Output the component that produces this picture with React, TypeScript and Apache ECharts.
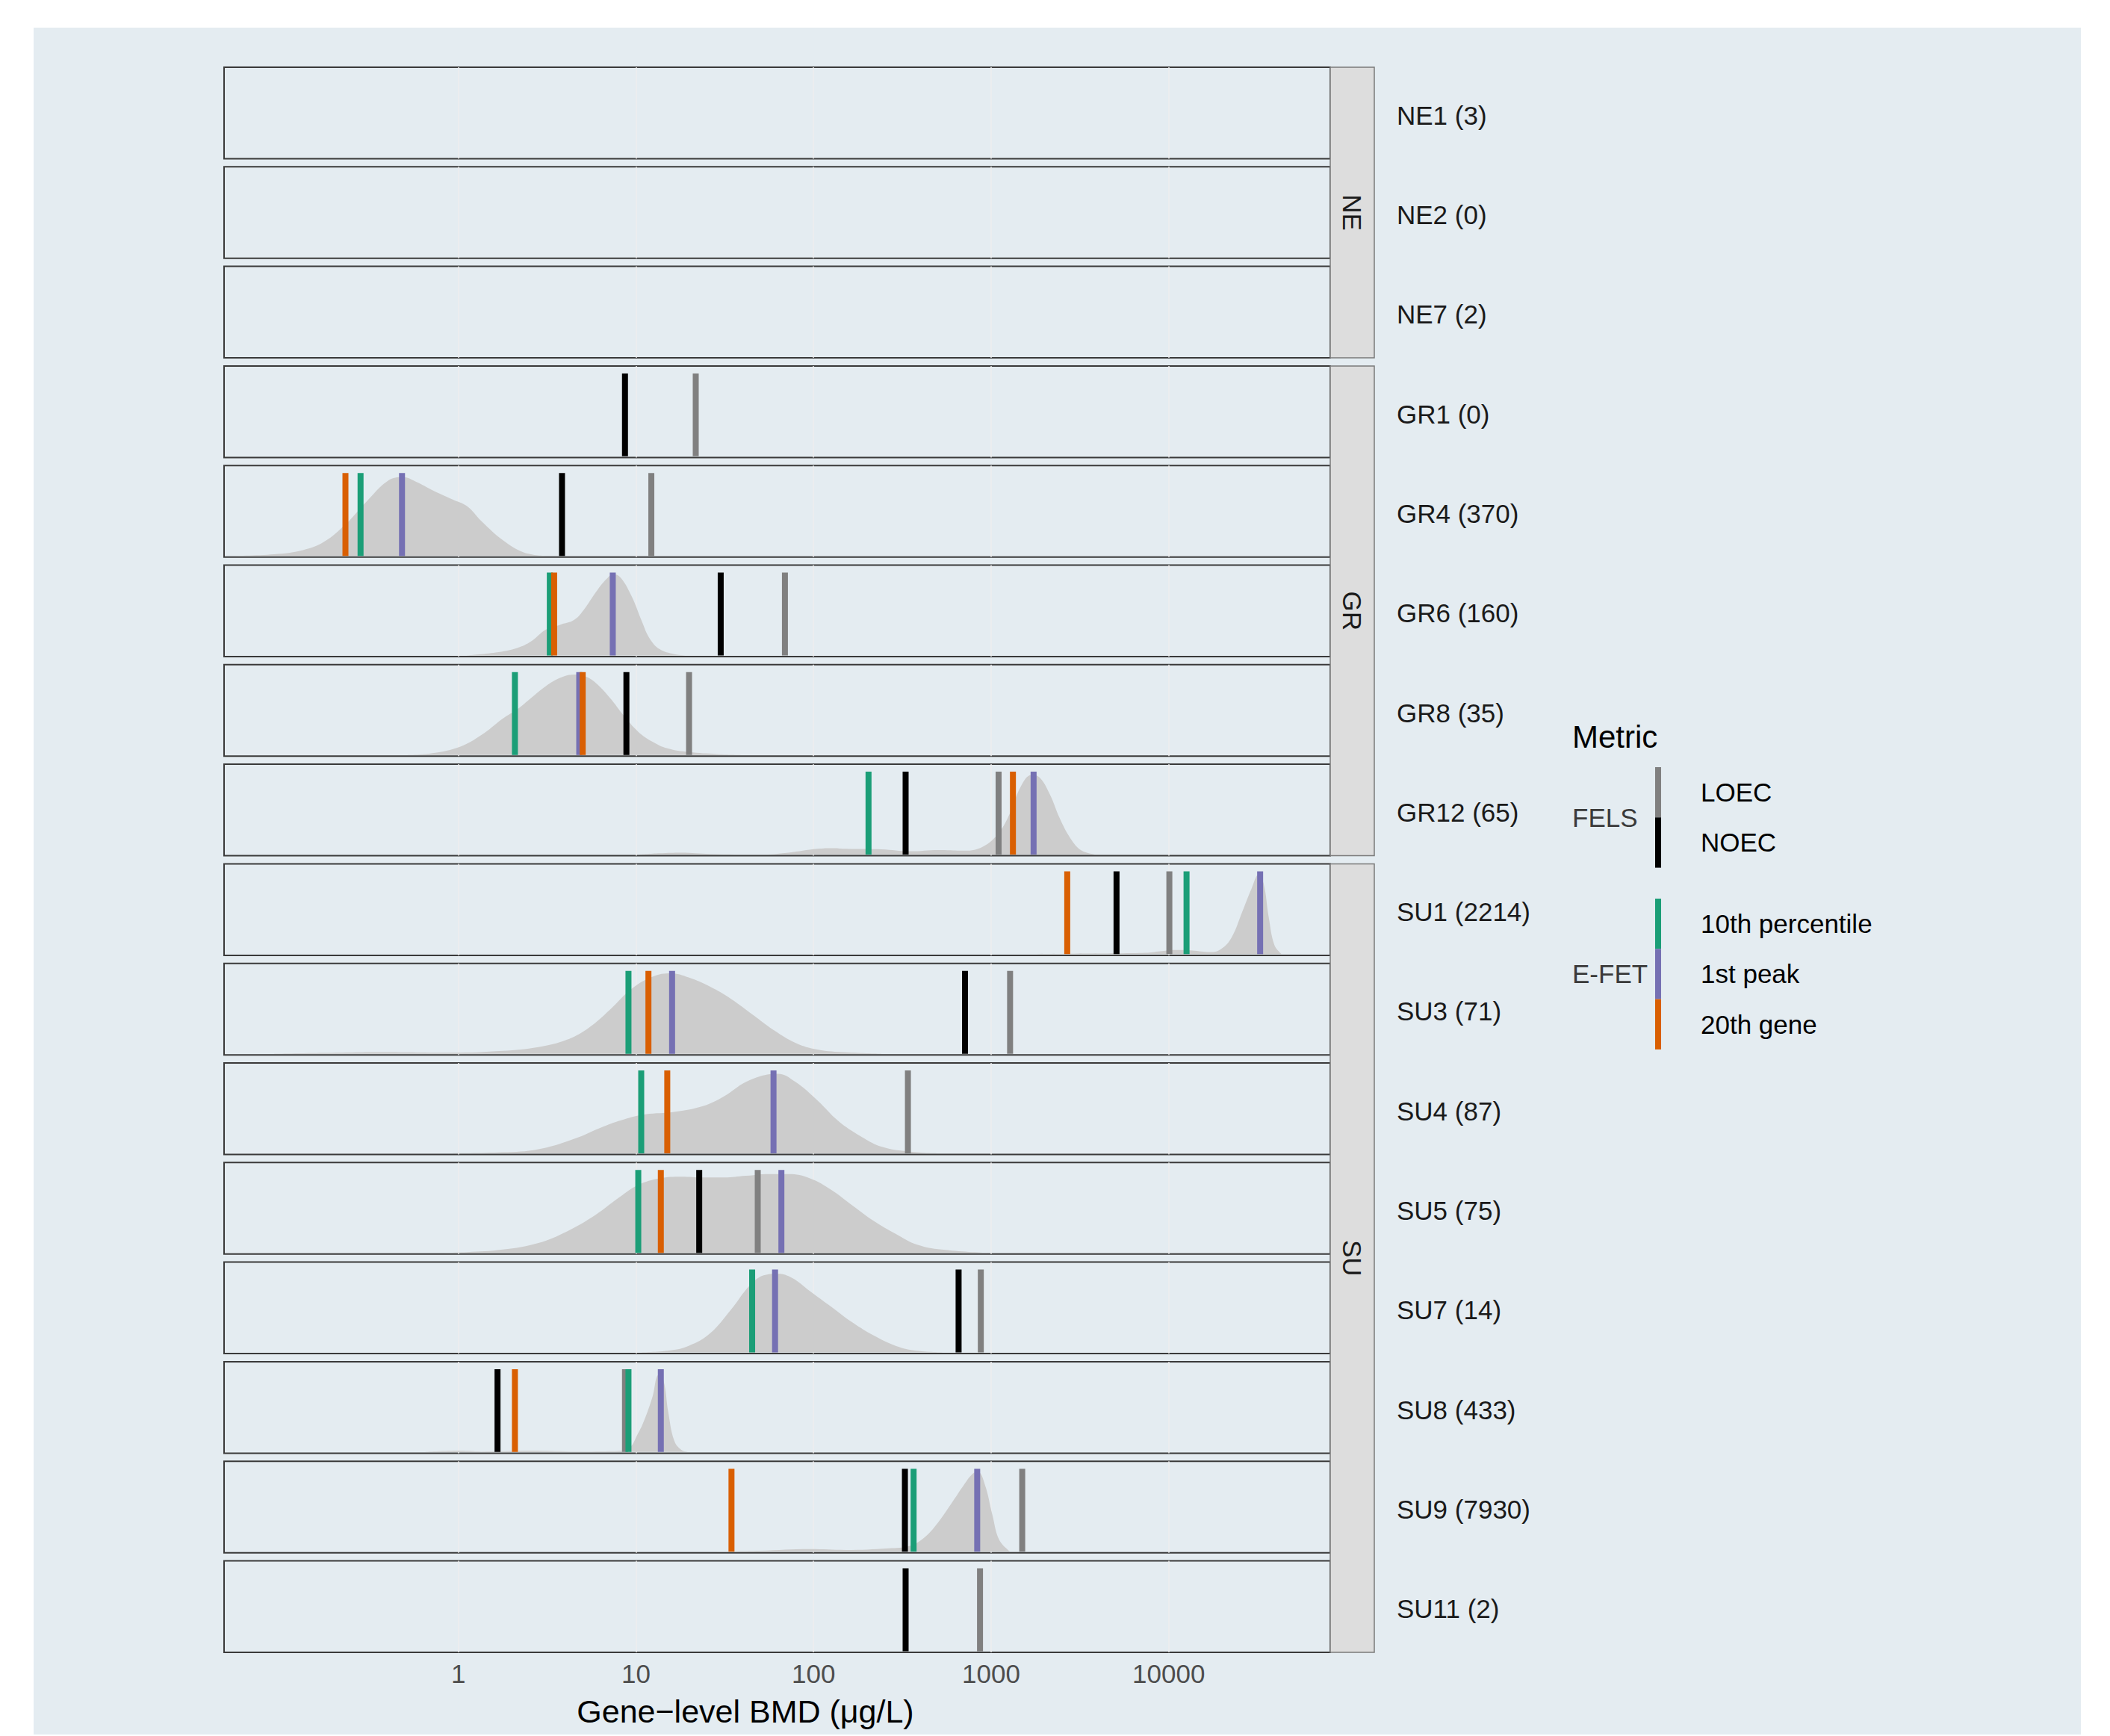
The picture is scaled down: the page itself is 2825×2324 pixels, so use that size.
import React, { useEffect, useRef } from 'react';
import * as echarts from 'echarts';

// ---------- data ----------
const rowLabels = ['NE1 (3)', 'NE2 (0)', 'NE7 (2)', 'GR1 (0)', 'GR4 (370)', 'GR6 (160)', 'GR8 (35)', 'GR12 (65)',
  'SU1 (2214)', 'SU3 (71)', 'SU4 (87)', 'SU5 (75)', 'SU7 (14)', 'SU8 (433)', 'SU9 (7930)', 'SU11 (2)'];
const groupLabels = ['NE', 'GR', 'SU'];
const groupRowCounts = [3, 5, 8];

const metricNames = ['LOEC', 'NOEC', '10th percentile', '1st peak', '20th gene'];
const metricColors = ['#808080', '#000000', '#1B9E77', '#7570B3', '#D95F02'];
const metricSources = ['FELS', 'FELS', 'E-FET', 'E-FET', 'E-FET'];
const legendGroups = ['FELS', 'E-FET'];

const loec = [null, null, null, 21.7, 12.2, 69.0, 19.9, 1102, 10090, 1279, 340, 48.5, 875, 8.67, 1497, 866];
const noec = [null, null, null, 8.67, 3.83, 30.0, 8.83, 330, 5086, 713, null, 22.7, 656, 1.66, 327, 330];
const pct10 = [null, null, null, null, 0.281, 3.27, 2.08, 204, 12610, 9.07, 10.7, 10.3, 45.1, 9.07, 366, null];
const peak1 = [null, null, null, null, 0.481, 7.40, 4.79, 1735, 32750, 15.97, 59.5, 65.9, 60.7, 13.8, 835, null];
const gene20 = [null, null, null, null, 0.231, 3.46, 5.01, 1327, 2684, 11.75, 15.0, 13.8, null, 2.08, 34.5, null];

// density curves: [BMD (µg/L), scaled density]
const densGR4 = [[0.0525, 0], [0.0916, 0.02], [0.133, 0.07], [0.175, 0.17], [0.231, 0.38], [0.305, 0.66], [0.403, 0.91], [0.485, 0.95], [0.584, 0.89], [0.703, 0.80], [0.929, 0.68], [1.117, 0.60], [1.345, 0.42], [1.776, 0.19], [2.345, 0.04], [3.097, 0]];
const densGR6 = [[1.12, 0], [1.62, 0.035], [2.14, 0.09], [2.57, 0.17], [3.10, 0.31], [3.73, 0.37], [4.49, 0.43], [5.16, 0.57], [5.93, 0.76], [6.81, 0.92], [7.47, 0.98], [8.19, 0.94], [9.42, 0.72], [10.8, 0.41], [11.9, 0.21], [13.6, 0.075], [16.4, 0.016], [19.8, 0]];
const densGR8 = [[0.485, 0], [0.703, 0.02], [1.02, 0.10], [1.345, 0.24], [1.776, 0.44], [2.14, 0.55], [2.57, 0.69], [3.10, 0.83], [3.73, 0.93], [4.49, 0.97], [5.16, 0.95], [5.93, 0.87], [7.13, 0.69], [8.58, 0.47], [10.3, 0.28], [12.4, 0.16], [15.0, 0.08], [19.8, 0.035], [28.6, 0.012], [41.5, 0]];
const densGR12 = [[10.3, 0], [13.6, 0.016], [18.0, 0.024], [26.1, 0.008], [49.9, 0], [72.3, 0.024], [105, 0.07], [130, 0.078], [152, 0.07], [241, 0.063], [349, 0.04], [506, 0.055], [733, 0.047], [925, 0.11], [1112, 0.27], [1278, 0.50], [1469, 0.82], [1688, 0.96], [1852, 0.94], [2128, 0.74], [2445, 0.43], [2810, 0.19], [3228, 0.05], [3888, 0]];
const densSU1 = [[1165, 0], [2944, 0.006], [7430, 0.016], [8950, 0.034], [10770, 0.05], [13580, 0.044], [17110, 0.025], [19660, 0.06], [22590, 0.2], [25950, 0.51], [29290, 0.79], [32140, 0.96], [34290, 0.85], [36590, 0.45], [39420, 0.11], [43250, 0]];
const densSU3 = [[0.0916, 0], [0.175, 0.01], [0.367, 0.02], [0.929, 0.012], [1.776, 0.034], [2.82, 0.08], [4.09, 0.17], [5.40, 0.31], [7.13, 0.53], [9.42, 0.78], [12.4, 0.93], [15.7, 0.97], [19.8, 0.92], [26.1, 0.81], [34.4, 0.66], [45.5, 0.47], [60.1, 0.28], [79.3, 0.13], [105, 0.05], [152, 0.016], [241, 0]];
const densSU4 = [[0.929, 0], [1.776, 0.012], [2.82, 0.05], [4.49, 0.175], [6.50, 0.32], [8.58, 0.41], [11.3, 0.47], [16.4, 0.50], [23.8, 0.57], [31.4, 0.69], [41.5, 0.86], [54.8, 0.95], [62.9, 0.96], [79.3, 0.86], [105, 0.64], [138, 0.39], [183, 0.21], [241, 0.08], [349, 0.02], [506, 0]];
const densSU5 = [[0.703, 0], [1.117, 0.01], [1.776, 0.04], [2.82, 0.12], [4.09, 0.26], [5.93, 0.46], [7.82, 0.65], [10.3, 0.82], [13.6, 0.90], [18.0, 0.92], [23.8, 0.91], [31.4, 0.91], [41.5, 0.93], [54.8, 0.95], [72.3, 0.95], [95.5, 0.90], [126, 0.76], [166, 0.57], [220, 0.38], [290, 0.23], [383, 0.10], [555, 0.035], [968, 0]];
const densSU7 = [[10.3, 0], [15.0, 0.02], [19.8, 0.08], [26.1, 0.23], [34.4, 0.52], [43.4, 0.80], [52.3, 0.93], [62.9, 0.95], [75.7, 0.90], [95.5, 0.74], [126, 0.55], [166, 0.36], [220, 0.20], [290, 0.08], [383, 0.02], [555, 0]];
const densSU8 = [[0.641, 0], [1.02, 0.016], [1.345, 0.006], [2.57, 0.016], [4.49, 0.006], [7.13, 0.01], [8.99, 0.04], [10.3, 0.23], [11.3, 0.42], [12.4, 0.67], [13.4, 0.93], [14.3, 0.86], [15.2, 0.48], [16.4, 0.14], [18.0, 0.025], [19.8, 0]];
const densSU9 = [[28.6, 0], [49.9, 0.01], [95.5, 0.03], [152, 0.02], [265, 0.04], [349, 0.07], [421, 0.17], [506, 0.36], [610, 0.61], [700, 0.80], [789, 0.94], [843, 0.96], [925, 0.80], [1015, 0.45], [1112, 0.14], [1278, 0]];
const rowDensities = [null, null, null, null, densGR4, densGR6, densGR8, densGR12, densSU1, densSU3, densSU4, densSU5, densSU7, densSU8, densSU9, null];

const tickValues = [1, 10, 100, 1000, 10000];
const tickLabels = ['1', '10', '100', '1000', '10000'];
const xAxisTitle = 'Gene\u2212level BMD (\u03bcg/L)';
const legendTitle = 'Metric';

// ---------- layout ----------
const W = 2825;
const H = 2324;
const PANEL_LEFT = 300;
const PANEL_WIDTH = 1481;
const PANEL_TOP0 = 90;
const ROW_PITCH = 133.3;
const PANEL_HEIGHT = 122.5;
const STRIP_WIDTH = 59;
const X_MIN = -1.32;
const X_MAX = 4.91;
const Y_MIN = -0.014;
const Y_MAX = 1.09;
const FONT = '"Liberation Sans", Arial, Helvetica, sans-serif';
const BG = '#E4ECF1';
const TXT = 35;

const lg = (v: number) => Math.log10(v);
const rowTop = (i: number) => PANEL_TOP0 + i * ROW_PITCH;

function txt(text: string, x: number, y: number, size: number, fill: string, align = 'left', extra: any = {}) {
  return {
    type: 'text',
    x, y,
    silent: true,
    z: 10,
    ...extra,
    style: {
      text, x: 0, y: 0, fill,
      fontSize: size, fontFamily: FONT,
      align, verticalAlign: 'middle',
      textAlign: align, textVerticalAlign: 'middle',
    },
  };
}

function buildOption() {
  const n = rowLabels.length;
  const metricData = [loec, noec, pct10, peak1, gene20];
  const grid: any[] = [];
  const xAxis: any[] = [];
  const yAxis: any[] = [];
  const series: any[] = [];

  for (let i = 0; i < n; i++) {
    const last = i === n - 1;
    grid.push({
      left: PANEL_LEFT, top: rowTop(i), width: PANEL_WIDTH, height: PANEL_HEIGHT,
      show: true, borderColor: '#3A3A3A', borderWidth: 2, backgroundColor: 'transparent',
    });
    xAxis.push({
      type: 'value', gridIndex: i, min: X_MIN, max: X_MAX,
      axisLine: { show: false },
      axisTick: { show: false, customValues: tickValues.map(lg) },
      splitLine: { show: true, lineStyle: { color: '#EEEEEE', width: 1.5 } },
      axisLabel: {
        show: last, customValues: tickValues.map(lg), margin: 11,
        fontSize: TXT, color: '#4D4D4D', fontFamily: FONT,
        formatter: (v: number) => {
          const k = tickValues.findIndex((t) => Math.abs(lg(t) - v) < 1e-6);
          return k >= 0 ? tickLabels[k] : '';
        },
      },
    });
    yAxis.push({ type: 'value', gridIndex: i, min: Y_MIN, max: Y_MAX, show: false, splitLine: { show: false } });

    const dens = rowDensities[i];
    if (dens) {
      series.push({
        type: 'line', xAxisIndex: i, yAxisIndex: i, name: 'density',
        data: dens.map((p) => [lg(p[0]), p[1]]),
        smooth: 0.4, symbol: 'none',
        lineStyle: { width: 0, color: '#CCCCCC' },
        areaStyle: { color: '#CCCCCC', opacity: 1 },
        silent: true, z: 1,
      });
    }
    metricData.forEach((arr, m) => {
      const v = arr[i];
      if (v == null) return;
      series.push({
        type: 'line', xAxisIndex: i, yAxisIndex: i, name: metricNames[m],
        data: [[lg(v), 0], [lg(v), 1]],
        symbol: 'none', silent: true, z: 3 + m,
        lineStyle: { width: 8, color: metricColors[m], cap: 'butt' },
      });
    });
  }

  const graphic: any[] = [];
  graphic.push({ type: 'rect', silent: true, z: -100, shape: { x: 45, y: 37, width: 2741, height: 2285 }, style: { fill: BG } });

  // strips
  let start = 0;
  groupLabels.forEach((g, gi) => {
    const cnt = groupRowCounts[gi];
    const y0 = rowTop(start);
    const y1 = rowTop(start + cnt - 1) + PANEL_HEIGHT;
    graphic.push({
      type: 'rect', silent: true, z: 5,
      shape: { x: PANEL_LEFT + PANEL_WIDTH, y: y0, width: STRIP_WIDTH, height: y1 - y0 },
      style: { fill: '#DDDDDD', stroke: '#7A7A7A', lineWidth: 1.5 },
    });
    graphic.push(txt(g, PANEL_LEFT + PANEL_WIDTH + STRIP_WIDTH / 2, (y0 + y1) / 2, TXT, '#1A1A1A', 'center', { rotation: -Math.PI / 2 }));
    start += cnt;
  });

  // row labels
  rowLabels.forEach((l, i) => {
    graphic.push(txt(l, 1870, rowTop(i) + PANEL_HEIGHT / 2 + 3, TXT, '#1A1A1A', 'left'));
  });

  // x axis title
  graphic.push(txt(xAxisTitle, 998, 2291, 43, '#000000', 'center'));

  // legend
  graphic.push(txt(legendTitle, 2105, 986, 42, '#000000', 'left'));
  const groupTops = [1027, 1203];
  const keyH = 67.3;
  legendGroups.forEach((g, gi) => {
    const idx = metricNames.map((_, m) => m).filter((m) => metricSources[m] === g);
    const top = groupTops[gi];
    idx.forEach((m, k) => {
      const y = top + k * keyH;
      graphic.push({ type: 'rect', silent: true, z: 10, shape: { x: 2216, y, width: 8, height: keyH }, style: { fill: metricColors[m] } });
      graphic.push(txt(metricNames[m], 2277, y + keyH / 2, TXT, '#000000', 'left'));
    });
    graphic.push(txt(g, 2105, top + (idx.length * keyH) / 2, TXT, '#3A3A3A', 'left'));
  });

  return {
    animation: false,
    backgroundColor: '#FFFFFF',
    grid, xAxis, yAxis, series, graphic,
  };
}

export default function App() {
  const ref = useRef<HTMLDivElement>(null);
  useEffect(() => {
    document.body.style.margin = '0';
    if (!ref.current) return;
    const chart = echarts.init(ref.current, undefined, { renderer: 'svg', width: W, height: H });
    chart.setOption(buildOption() as any);
    return () => chart.dispose();
  }, []);
  return <div ref={ref} style={{ width: W, height: H }} />;
}
